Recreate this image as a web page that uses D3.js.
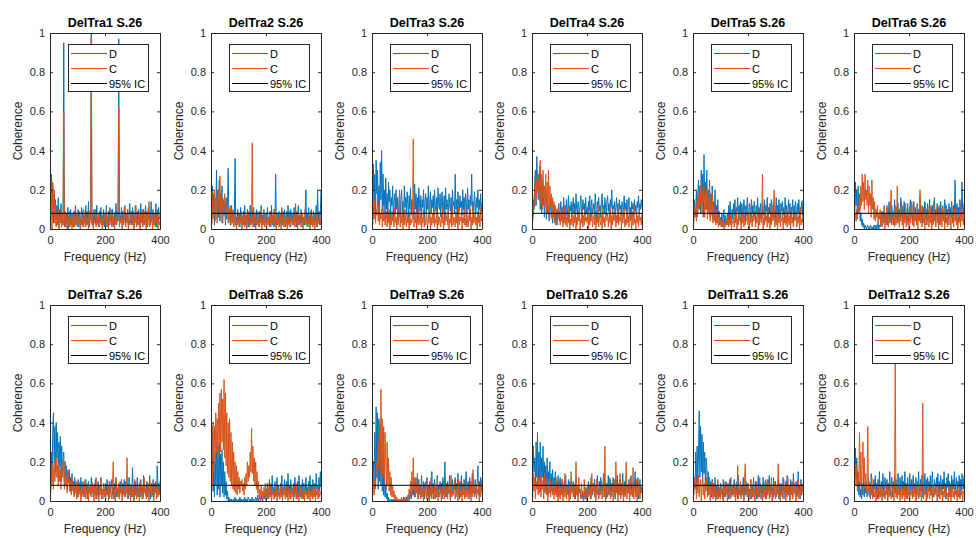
<!DOCTYPE html>
<html lang="en">
<head>
<meta charset="UTF-8" />
<title>Coherence DelTra S.26</title>
<script src="https://d3js.org/d3.v7.min.js"></script>
<style>
  body { margin: 0; background: #ffffff; }
  svg { display: block; font-family: "Liberation Sans", Arial, sans-serif; }
  .axis { color: #262626; }
  .axis text { font-size: 11px; font-family: "Liberation Sans", Arial, sans-serif; fill: #262626; }
  .title { font-size: 12.5px; font-weight: bold; fill: #000; }
  .label { font-size: 12px; fill: #262626; }
  .legend text { font-size: 11px; fill: #000; }
</style>
</head>
<body>
<svg id="chart" width="976" height="538"></svg>
<script>
// frequency grid (Hz) shared by every trace, one sample every 2.5 Hz
const freq = d3.range(0, 400.1, 2.5);

const titles = ['DelTra1 S.26', 'DelTra2 S.26', 'DelTra3 S.26', 'DelTra4 S.26', 'DelTra5 S.26', 'DelTra6 S.26',
                'DelTra7 S.26', 'DelTra8 S.26', 'DelTra9 S.26', 'DelTra10 S.26', 'DelTra11 S.26', 'DelTra12 S.26'];
const legendLabels = ['D', 'C', '95% IC'];
const xTicks = [0, 200, 400];
const yTicks = [0, 20, 40, 60, 80, 100];

// coherence in hundredths
const ciLevel = 8;

const D1 = [30,5,28,12,22,3,18,6,15,2, 12,4,16,1,10,5,13,2,8,3, 95,2,9,1,7,4,11,0,6,3, 10,2,8,5,1,9,3,12,2,7,
  4,10,1,8,3,6,11,2,9,1, 7,3,12,2,9,4,14,1,8,5, 100,3,8,1,10,4,7,2,12,3, 6,1,9,4,11,2,7,3,10,1,
  8,3,12,1,6,9,2,11,4,7, 2,10,5,1,8,3,13,2,9,4, 97,2,7,4,11,1,9,3,6,12, 2,8,4,10,1,7,13,3,9,2,
  11,4,8,1,12,5,3,9,2,10, 6,1,13,4,8,2,10,3,7,12, 3,9,1,11,5,8,2,14,4,7, 10,2,8,4,13,1,9,3,11,5, 6];
const C1 = [25,4,22,0,24,8,20,3,12,1, 8,2,10,0,6,3,9,1,7,2, 60,1,6,3,8,0,5,2,9,1, 4,7,0,6,2,9,1,5,3,8,
  1,6,3,9,0,5,2,7,1,10, 3,6,1,8,2,5,0,9,3,6, 98,2,7,0,5,3,10,1,6,4, 2,8,1,5,3,9,0,6,2,7,
  4,1,9,3,6,0,8,2,5,10, 1,7,3,5,0,9,2,6,4,8, 62,1,5,3,8,0,6,2,11,4, 1,7,3,9,0,5,2,8,4,6,
  2,9,0,6,3,12,1,5,2,8, 4,0,7,3,10,1,6,2,9,3, 0,8,2,5,14,1,6,3,9,0, 5,2,8,1,6,3,10,0,7,2, 4];

const D2 = [12,3,22,8,18,2,15,10,30,5, 20,6,25,4,18,9,22,3,15,7, 14,2,16,5,12,31,4,10,2,8, 12,3,9,1,7,36,2,6,4,10,
  3,8,1,11,4,7,2,9,5,12, 2,7,4,10,1,8,3,12,2,6, 9,3,11,1,6,4,10,2,8,5, 1,9,3,12,2,7,4,10,1,6,
  8,2,11,4,6,1,9,3,12,2, 7,4,10,1,28,3,8,2,6,9, 1,7,3,11,2,8,4,10,1,6, 9,2,12,3,7,1,10,4,8,2,
  6,11,3,8,1,9,4,12,2,7, 3,10,1,8,4,6,2,9,20,3, 8,1,11,4,7,2,10,3,6,9, 2,8,4,12,1,20,3,9,2,7, 20];
const C2 = [8,2,18,5,12,20,4,16,10,3, 14,20,6,27,8,18,3,16,9,12, 18,4,12,9,14,3,10,6,12,2, 8,3,10,1,6,4,8,0,5,2,
  7,1,5,3,9,0,6,2,8,1, 4,7,0,6,3,9,1,5,2,7, 44,1,6,3,8,0,5,2,9,4, 1,6,3,10,0,5,2,8,1,7,
  3,0,8,2,6,4,9,1,5,3, 7,1,10,2,5,0,8,3,6,1, 4,8,0,6,3,9,1,5,2,7, 3,0,6,2,9,4,1,7,3,5,
  2,8,1,13,3,6,0,9,2,5, 7,1,4,8,0,6,3,10,2,5, 1,7,3,5,0,9,2,6,1,8, 4,0,6,2,9,1,5,3,7,2, 5];

const D3 = [25,8,33,12,28,5,35,18,30,10, 22,6,34,15,40,9,28,12,20,5, 26,10,18,4,24,14,20,6,16,12, 22,5,14,18,8,20,10,16,4,12,
  18,6,15,20,9,14,5,22,11,16, 8,19,13,6,17,10,21,7,15,12, 14,5,23,10,18,8,16,4,21,13, 9,17,6,15,11,20,5,14,18,8,
  16,10,22,6,13,19,8,15,11,17, 5,20,12,9,16,7,21,13,10,18, 6,14,19,8,12,17,5,21,10,15, 11,7,18,13,9,16,6,20,12,14,
  8,28,10,15,6,19,12,9,17,11, 14,7,20,10,16,5,18,13,8,21, 10,15,6,17,12,28,9,14,7,19, 13,8,16,11,20,6,15,10,18,9, 14];
const C3 = [8,2,12,5,15,3,10,7,18,4, 12,2,8,5,10,1,12,4,7,2, 5,9,1,8,3,10,0,6,2,9, 4,7,1,11,3,6,0,9,2,5,
  20,1,7,3,9,0,6,2,10,4, 1,8,3,6,0,9,2,5,3,7, 46,1,5,3,9,0,7,2,11,4, 2,8,0,6,3,10,1,5,2,9,
  4,1,7,3,12,0,6,2,8,3, 9,1,5,3,10,0,7,2,6,4, 1,8,3,11,0,6,2,9,4,7, 2,10,0,5,3,8,1,12,2,6,
  5,1,9,3,7,0,11,2,6,4, 8,0,6,3,10,2,5,1,9,3, 1,7,4,10,0,6,2,12,3,5, 8,2,6,0,9,3,7,1,11,4, 6];

const D4 = [18,6,15,10,25,30,12,37,20,28, 15,32,10,22,8,25,12,18,6,14, 20,5,15,8,12,4,10,16,6,11, 3,9,12,4,8,2,10,5,7,13,
  4,9,14,6,11,3,16,8,12,5, 15,7,10,17,4,12,9,14,6,11, 16,8,13,5,18,10,7,14,11,6, 12,17,9,4,15,10,13,7,16,8,
  11,5,14,9,17,6,12,15,8,10, 13,7,18,10,5,14,11,16,9,12, 6,15,18,10,12,8,16,11,7,14, 17,9,13,6,15,11,20,8,12,10,
  14,7,11,16,9,13,5,15,10,12, 8,14,11,6,17,10,13,9,15,7, 12,16,8,11,5,14,10,13,7,15, 9,12,6,14,11,17,8,13,10,15, 11];
const C4 = [10,4,8,14,22,12,26,15,30,18, 25,14,35,12,28,10,30,16,22,12, 28,8,24,10,30,6,22,12,18,5, 16,6,14,3,12,8,10,2,11,5,
  9,2,8,4,10,1,7,3,12,2, 6,1,8,3,11,0,5,2,9,4, 1,7,3,10,0,6,2,9,4,8, 0,5,3,11,1,7,2,9,4,6,
  3,10,0,8,2,6,4,11,1,5, 7,2,9,0,6,3,12,1,8,4, 2,7,0,10,3,6,1,9,4,5, 8,1,6,3,11,0,7,2,9,4,
  5,10,1,7,3,12,2,6,4,9, 0,8,3,6,11,1,5,2,9,3, 7,1,10,4,6,0,9,2,12,3, 5,0,8,3,7,1,10,4,6,2, 8];

const D5 = [12,4,15,8,10,20,6,18,25,10, 22,8,30,12,28,6,38,15,24,10, 30,8,20,12,25,6,18,10,22,5, 14,4,20,8,12,3,15,6,9,2,
  6,3,8,1,5,10,2,7,3,4, 8,2,12,4,14,6,3,10,5,13, 7,15,4,11,9,16,5,12,8,14, 3,13,9,6,15,10,4,12,7,16,
  9,5,13,11,4,15,8,12,6,14, 10,3,12,8,16,6,11,4,13,9, 5,14,10,7,15,4,12,9,16,6, 11,8,13,3,15,10,6,14,9,12,
  4,16,8,12,6,15,10,5,13,9, 14,7,11,4,16,9,12,6,10,15, 8,13,5,11,9,15,4,12,7,14, 10,6,13,8,15,5,11,9,14,7, 15];
const C5 = [8,3,12,6,10,4,15,8,18,10, 22,12,25,8,20,14,22,6,18,10, 20,5,16,8,22,4,14,7,18,3, 12,4,9,2,10,3,6,1,8,2,
  5,1,4,2,6,0,3,1,5,2, 3,7,1,5,2,8,0,4,3,6, 1,7,3,9,0,5,2,8,4,6, 0,6,3,10,1,7,2,5,4,9,
  2,8,0,6,3,10,1,7,4,5, 9,1,6,3,11,0,7,2,8,4, 3,28,0,6,2,9,4,7,1,10, 3,6,0,8,2,12,4,5,20,1,
  6,2,9,0,7,3,11,1,5,4, 8,0,6,3,10,2,7,1,9,4, 2,7,0,10,3,6,1,8,4,5, 9,1,6,3,7,0,11,2,5,3, 8];

const D6 = [26,8,24,12,20,5,22,10,15,4, 8,2,5,1,3,0,2,1,0,1, 2,0,1,0,2,1,0,1,0,2, 1,0,2,0,1,3,0,2,1,4,
  6,2,9,4,12,3,8,5,11,2, 7,14,4,10,3,12,6,9,2,15, 5,11,8,3,13,6,10,4,16,7, 12,3,9,14,5,11,7,2,13,8,
  4,10,15,6,12,3,9,14,5,11, 8,2,13,7,10,4,16,9,6,12, 3,11,8,14,5,10,2,13,7,9, 15,4,11,6,12,3,9,16,5,10,
  7,13,4,11,8,2,14,6,10,12, 5,9,15,3,12,7,10,4,13,8, 11,6,14,9,3,12,8,25,5,10, 13,7,11,4,15,9,6,24,10,8, 13];
const C6 = [10,6,8,4,10,6,12,8,18,10, 22,12,28,14,24,10,28,15,20,12, 25,8,22,12,18,6,25,10,16,5, 14,4,10,6,12,3,8,5,10,2,
  9,1,6,3,11,0,8,2,12,4, 1,7,3,10,20,2,6,4,9,1, 12,2,8,22,3,6,1,10,4,14, 2,7,0,9,3,13,1,6,4,8,
  0,11,3,6,14,2,8,1,10,4, 7,2,12,0,9,4,20,3,6,1, 11,3,8,0,13,2,6,4,10,1, 7,3,12,0,9,2,14,4,6,1,
  10,3,7,0,12,2,5,9,1,11, 4,8,0,13,3,6,1,10,2,9, 5,0,12,3,7,1,11,4,8,2, 10,0,6,3,13,1,8,4,9,2, 8];

const D7 = [15,6,25,12,35,45,20,38,15,40, 22,35,12,30,18,33,10,28,15,22, 25,8,20,12,18,6,15,10,16,5, 12,4,14,8,10,3,12,6,9,2,
  8,11,3,9,5,12,2,7,10,4, 9,2,11,5,8,1,10,4,7,3, 12,5,9,2,8,4,11,1,7,3, 10,2,8,5,12,1,6,3,9,4,
  2,9,5,11,3,7,1,10,4,8, 11,3,7,1,9,5,12,2,6,4, 8,1,10,4,6,2,9,3,11,5, 2,7,4,9,1,12,3,6,8,2,
  17,4,8,1,10,3,7,12,2,6, 9,2,11,4,7,1,13,5,8,3, 6,10,2,8,4,13,1,7,9,3, 11,2,8,5,10,3,18,6,9,4, 10];
const C7 = [10,4,14,8,18,6,20,10,15,22, 12,18,8,20,10,16,6,18,12,20, 14,6,20,8,12,4,16,9,11,5, 10,3,12,5,9,2,8,4,10,1,
  7,2,10,4,6,0,9,3,8,2, 5,11,1,6,3,9,0,7,4,8, 2,10,4,6,0,9,3,12,1,7, 4,0,8,3,11,2,6,1,9,3,
  7,1,5,3,10,0,8,2,6,4, 1,9,20,3,6,0,11,4,7,2, 9,1,6,4,11,0,8,3,5,2, 10,4,22,1,7,3,9,0,6,4,
  2,8,0,11,3,6,1,9,4,7, 0,10,3,5,1,8,2,12,4,6, 1,7,3,9,0,11,4,6,2,8, 3,0,9,4,7,1,10,2,6,3, 6];

const D8 = [40,12,38,5,20,2,25,8,30,3, 28,6,30,2,24,8,26,4,20,2, 15,3,10,1,5,0,2,0,1,0, 1,0,0,1,0,2,0,1,0,0,
  1,0,2,0,1,0,0,1,0,2, 0,1,0,0,2,1,0,1,0,0, 2,0,1,0,0,2,1,0,3,0, 1,2,0,1,3,0,2,4,1,3,
  6,2,9,1,5,11,3,8,2,13, 4,7,1,10,3,6,12,2,8,5, 1,9,4,13,2,7,5,11,3,6, 10,2,14,5,8,1,11,4,7,3,
  9,2,12,5,7,1,10,3,13,6, 2,8,4,11,1,9,6,3,12,4, 7,1,10,5,13,3,8,2,11,6, 4,9,2,14,6,8,1,12,5,15, 7];
const C8 = [12,30,8,40,15,38,20,45,25,42, 22,50,28,55,25,57,30,52,26,62, 22,55,18,45,14,40,12,42,10,35, 8,30,6,25,5,20,4,18,3,15,
  6,12,4,10,8,11,5,9,3,12, 6,14,8,20,10,18,12,25,15,37, 14,28,10,22,8,20,6,15,4,10, 2,6,0,8,3,5,1,7,2,9,
  0,5,3,7,1,6,2,9,0,4, 3,7,1,5,2,8,0,6,3,4, 1,8,2,5,0,7,3,6,1,9, 2,5,0,7,3,4,1,8,2,6,
  0,7,3,5,1,9,2,4,0,6, 3,8,1,5,2,7,0,6,3,5, 1,6,2,8,0,5,3,7,1,4, 2,7,0,5,3,8,1,6,2,4, 5];

const D9 = [15,5,20,10,35,8,48,12,45,6, 42,10,40,8,30,5,25,3,15,2, 8,1,4,0,2,0,1,0,0,1, 0,0,1,0,0,1,0,0,1,0,
  0,1,0,0,1,0,2,0,1,0, 2,0,1,3,0,2,5,1,4,8, 3,10,2,7,12,4,9,1,11,5, 8,2,13,6,3,10,1,9,5,7,
  12,3,8,1,10,6,2,15,4,9, 1,11,5,7,2,13,3,8,6,10, 4,9,1,12,6,3,20,5,8,2, 10,4,7,13,1,9,5,11,3,8,
  6,12,2,9,4,14,7,1,10,5, 13,3,8,6,11,2,9,15,4,7, 10,1,12,6,3,9,14,5,8,2, 11,4,7,9,18,3,10,6,12,5, 11];
const C9 = [12,5,15,3,10,6,14,20,12,30, 18,40,14,57,16,42,12,38,10,35, 20,6,30,8,22,5,15,3,12,2, 8,2,5,1,3,0,2,0,1,0,
  0,1,0,2,0,1,0,0,2,0, 1,0,3,1,6,2,10,4,15,3, 22,5,12,2,8,4,14,1,9,3, 6,1,9,2,5,0,7,3,10,1,
  5,2,8,0,6,3,12,1,7,4, 2,9,1,6,3,11,0,5,2,8, 4,0,7,3,10,1,6,2,9,3, 1,8,4,6,0,13,2,5,3,7,
  10,1,6,3,8,0,11,4,5,2, 7,0,9,3,6,1,12,2,5,4, 1,8,3,10,0,6,2,16,4,7, 3,9,1,6,4,10,0,8,2,5, 10];

const D10 = [33,10,28,15,22,8,30,12,35,6, 25,10,30,5,22,12,28,8,20,4, 18,6,22,3,15,9,20,2,14,5, 16,4,12,8,15,3,10,6,13,2,
  9,12,4,8,11,3,7,10,5,13, 2,8,6,11,3,9,1,12,5,7, 10,3,8,1,11,5,7,2,9,4, 6,2,3,1,4,0,2,5,1,3,
  7,2,10,4,8,1,12,6,3,9, 5,11,2,8,4,13,6,1,10,3, 12,5,8,2,14,7,4,10,1,9, 6,13,3,8,11,2,9,5,12,4,
  7,1,10,6,13,3,8,4,11,2, 9,5,14,2,7,10,3,12,6,8, 4,11,1,9,13,5,8,2,10,6, 15,3,9,6,12,1,8,11,4,7, 6];
const C10 = [8,2,14,5,12,1,10,6,15,3, 12,4,13,2,9,6,11,1,14,5, 10,3,12,0,7,4,11,2,9,6, 3,10,1,8,4,12,2,6,0,9,
  5,1,7,3,11,0,6,2,14,4, 1,8,3,6,0,10,2,15,4,7, 2,9,1,5,20,3,8,0,12,4, 6,1,9,3,5,0,11,2,7,3,
  0,8,2,6,3,10,1,14,4,5, 9,2,7,0,11,3,6,1,8,4, 3,10,1,6,13,2,28,0,5,8, 2,7,4,12,1,6,3,9,0,5,
  11,2,20,4,7,0,9,3,14,1, 6,3,10,0,8,2,5,20,1,7, 4,9,0,12,3,6,2,17,1,8, 5,2,11,0,7,3,10,1,6,4, 8];

const D11 = [15,4,12,8,25,6,28,10,24,46, 12,38,15,34,10,30,14,25,8,22, 18,5,15,3,12,6,10,2,11,4, 9,2,12,4,8,1,10,3,7,2,
  9,4,6,1,11,3,8,2,10,5, 3,9,1,7,4,12,2,6,3,8, 11,2,7,4,10,1,13,3,6,5, 2,8,4,12,1,7,3,10,5,2,
  9,3,6,1,11,4,8,2,12,5, 3,10,1,7,4,13,2,6,9,1, 8,4,12,2,6,10,1,9,3,11, 5,13,2,8,4,7,1,12,3,9,
  10,2,6,4,11,1,8,3,9,5, 2,12,5,7,1,10,4,13,3,6, 8,1,11,4,9,2,14,5,7,3, 10,2,6,15,4,8,1,11,3,7, 9];
const C11 = [10,3,12,6,9,1,11,4,13,2, 8,11,0,7,12,3,9,1,10,5, 12,2,8,4,11,0,7,3,10,1, 6,2,9,0,5,3,11,1,7,4,
  1,8,3,6,0,10,2,7,4,9, 0,5,3,11,1,6,2,8,4,7, 2,9,0,6,3,18,1,7,4,10, 1,6,3,8,0,12,19,4,7,2,
  9,0,5,3,11,1,7,2,8,4, 0,6,3,10,1,5,2,12,4,7, 3,0,8,2,6,4,11,1,7,3, 9,1,5,3,12,0,6,2,10,4,
  1,8,3,6,19,2,9,0,5,3, 7,1,11,4,6,0,9,2,12,3, 5,0,8,3,10,1,6,4,9,2, 0,7,3,11,1,6,2,9,4,5, 8];

const D12 = [20,8,27,12,22,6,15,3,10,2, 6,1,9,3,12,2,8,4,10,2, 5,12,3,9,1,14,4,8,2,11, 6,13,3,9,1,11,5,15,2,8,
  10,3,14,6,2,12,8,4,11,1, 9,5,15,3,8,12,2,10,6,13, 4,11,7,2,14,9,3,12,5,8, 13,2,10,6,15,4,9,1,12,7,
  3,14,8,5,11,2,13,6,9,4, 12,1,10,7,15,3,8,11,5,13, 2,9,6,14,4,11,1,12,7,10, 5,13,3,9,15,6,2,11,8,4,
  12,7,14,2,10,5,13,8,3,11, 6,15,4,9,1,12,7,14,3,10, 8,2,13,5,11,6,15,3,9,12, 4,10,7,13,2,11,5,14,8,6, 13];
const C12 = [40,12,20,8,18,5,15,10,35,8, 25,2,18,30,12,22,6,14,4,10, 38,5,10,2,8,3,12,1,7,4, 2,8,0,6,3,9,1,5,2,7,
  4,0,6,2,8,1,5,3,9,0, 6,2,4,8,1,5,3,7,0,6, 70,2,5,1,8,3,6,0,7,4, 1,6,3,8,0,5,2,9,1,4,
  7,0,5,3,8,1,6,2,4,9, 0,6,3,7,1,5,2,8,0,4, 50,1,6,3,8,0,5,2,7,4, 1,7,3,5,0,8,2,6,3,9,
  4,0,7,2,5,1,8,3,6,0, 5,2,8,1,6,3,4,0,7,2, 6,0,4,8,2,5,1,7,3,5, 0,6,2,8,1,4,3,7,0,5, 4];

const seriesD = [D1, D2, D3, D4, D5, D6, D7, D8, D9, D10, D11, D12];
const seriesC = [C1, C2, C3, C4, C5, C6, C7, C8, C9, C10, C11, C12];

const colorD = '#0072BD';
const colorC = '#D95319';
const colorCI = '#000000';

// layout
const panelW = 110, panelH = 196;
const colLeft = d3.range(6).map(i => Math.round(50 + i * 160.8));
const rowTop = [33, 305];

const svg = d3.select('#chart');

const x = d3.scaleLinear().domain([0, 400]).range([0, panelW]);
const y = d3.scaleLinear().domain([0, 100]).range([panelH, 0]);
const line = d3.line().x((d, i) => x(freq[i])).y(d => y(d));

titles.forEach((title, k) => {
    const col = k % 6, row = Math.floor(k / 6);
    const g = svg.append('g').attr('transform', `translate(${colLeft[col]},${rowTop[row]})`);

    g.append('clipPath').attr('id', 'clip' + k)
        .append('rect').attr('width', panelW).attr('height', panelH);

    const plot = g.append('g').attr('clip-path', `url(#clip${k})`);

    plot.append('path').datum(seriesD[k])
        .attr('d', line).attr('fill', 'none').attr('stroke', colorD).attr('stroke-width', 1);
    plot.append('path').datum(seriesC[k])
        .attr('d', line).attr('fill', 'none').attr('stroke', colorC).attr('stroke-width', 1);
    plot.append('line')
        .attr('x1', x(0)).attr('x2', x(400))
        .attr('y1', y(ciLevel)).attr('y2', y(ciLevel))
        .attr('stroke', colorCI).attr('stroke-width', 1);

    // axes, MATLAB style: ticks pointing in, box on all sides
    g.append('g').attr('class', 'axis')
        .attr('transform', `translate(0,${panelH})`)
        .call(d3.axisBottom(x).tickValues(xTicks).tickSizeInner(-3).tickSizeOuter(0).tickPadding(7));
    g.append('g').attr('class', 'axis')
        .call(d3.axisLeft(y).tickValues(yTicks).tickFormat(d => d3.format('~g')(d / 100))
            .tickSizeInner(-3).tickSizeOuter(0).tickPadding(5));
    g.append('g').attr('class', 'axis')
        .call(d3.axisTop(x).tickValues(xTicks).tickFormat('').tickSizeInner(-3).tickSizeOuter(0));
    g.append('g').attr('class', 'axis')
        .attr('transform', `translate(${panelW},0)`)
        .call(d3.axisRight(y).tickValues(yTicks).tickFormat('').tickSizeInner(-3).tickSizeOuter(0));

    g.append('text').attr('class', 'title')
        .attr('x', panelW / 2).attr('y', -6)
        .attr('text-anchor', 'middle').text(title);
    g.append('text').attr('class', 'label')
        .attr('x', panelW / 2).attr('y', panelH + 32)
        .attr('text-anchor', 'middle').text('Frequency (Hz)');
    g.append('text').attr('class', 'label')
        .attr('transform', `translate(-28,${panelH / 2}) rotate(-90)`)
        .attr('text-anchor', 'middle').text('Coherence');

    // legend
    const lg = g.append('g').attr('class', 'legend').attr('transform', 'translate(18,11)');
    lg.append('rect').attr('x', 0.5).attr('y', 0.5).attr('width', 80).attr('height', 47)
        .attr('fill', '#fff').attr('stroke', '#262626').attr('stroke-width', 1);
    [colorD, colorC, colorCI].forEach((c, j) => {
        const cy = 9.5 + j * 15;
        lg.append('line').attr('x1', 3).attr('x2', 39).attr('y1', cy).attr('y2', cy)
            .attr('stroke', c).attr('stroke-width', 1);
        lg.append('text').attr('x', 41).attr('y', cy + 4).text(legendLabels[j]);
    });
});
</script>
</body>
</html>
